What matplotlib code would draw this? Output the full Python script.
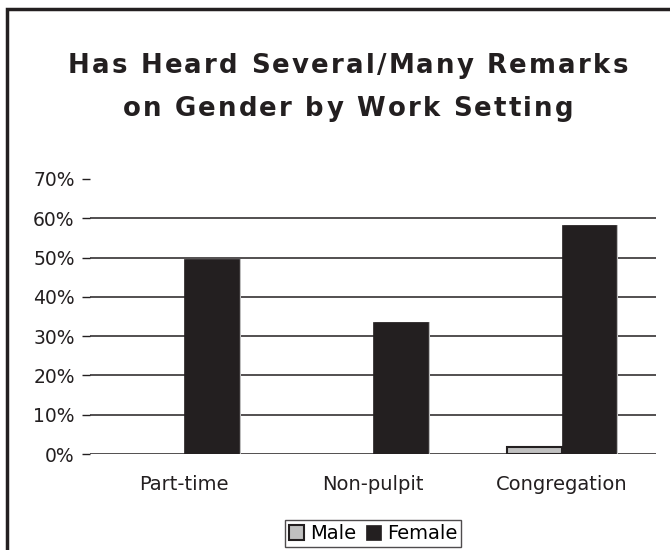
import matplotlib
matplotlib.use("Agg")
import matplotlib.pyplot as plt
from matplotlib.patches import Rectangle, Patch
from matplotlib.font_manager import FontProperties, findfont
from matplotlib.ft2font import FT2Font
import numpy as np

categories = ["Part-time", "Non-pulpit", "Congregation"]
male = [0.0, 0.0, 1.9]
female = [49.6, 33.6, 58.3]
yticks = [0, 10, 20, 30, 40, 50, 60, 70]
ytick_labels = ["0%", "10%", "20%", "30%", "40%", "50%", "60%", "70%"]
title_lines = ["Has Heard Several/Many Remarks", "on Gender by Work Setting"]

W, H = 670, 550
DPI = 100
fig = plt.figure(figsize=(W / DPI, H / DPI), dpi=DPI)
ax = fig.add_axes([90 / W, 1 - 454 / H, (656 - 90) / W, (454 - 179) / H])

x = np.arange(len(categories))
bw = 0.29
dark = "#231f20"
male_color = "#c0c0c0"
ax.bar(x - bw / 2, male, bw, color=male_color, edgecolor=dark,
       linewidth=[1.5 if v > 0 else 0 for v in male], zorder=3)
ax.bar(x + bw / 2 + 0.01, female, bw, color="#bdbdbd", edgecolor="none", zorder=2)  # shadow
ax.bar(x + bw / 2, female, bw, color=dark, edgecolor=dark, linewidth=0.5, zorder=3)

ax.set_xlim(-0.5, 2.5)
ax.set_ylim(0, 70)
ax.set_yticks(yticks)
ax.set_yticklabels(ytick_labels)
ax.set_xticks(x)
ax.set_xticklabels(categories)
for y in yticks[:-1]:
    ax.axhline(y, color=dark, linewidth=1.1, zorder=1)
for s in ax.spines.values():
    s.set_visible(False)
ax.tick_params(axis="y", length=6, width=1, color=dark, labelsize=13.5,
               labelcolor=dark, pad=5)
ax.tick_params(axis="x", length=0, labelsize=14, labelcolor=dark, pad=15)

# Letter-spaced title
tsize = 18.7
fprop = FontProperties(family="DejaVu Sans", weight="bold", size=tsize)
ft = FT2Font(findfont(fprop))
ft.set_size(tsize, 72)


def advances(s):
    adv = []
    for c in s:
        g = ft.load_char(ord(c))
        adv.append(g.linearHoriAdvance / 65536.0 * DPI / 72.0)
    return adv


adv1 = advances(title_lines[0])
track = (560 - sum(adv1)) / (len(title_lines[0]) - 1)
cx = 348
for line, yc in zip(title_lines, [63, 106]):
    adv = advances(line)
    total = sum(adv) + track * (len(line) - 1)
    xp = cx - total / 2
    for c, a in zip(line, adv):
        if c != " ":
            fig.text(xp / W, 1 - yc / H, c, ha="left", va="center_baseline",
                     fontproperties=fprop, color=dark)
        xp += a + track

handles = [Patch(facecolor=male_color, edgecolor=dark, linewidth=1.5, label="Male"),
           Patch(facecolor=dark, edgecolor=dark, linewidth=0.5, label="Female")]
leg = ax.legend(handles=handles, loc="upper center",
                bbox_to_anchor=(0.5, -(520 - 454) / (454 - 179)),
                ncol=2, frameon=True, fontsize=14, handlelength=0.8, handleheight=0.8,
                handletextpad=0.3, columnspacing=0.5, borderpad=0.2,
                fancybox=False, borderaxespad=0)
leg.get_frame().set_edgecolor(dark)
leg.get_frame().set_linewidth(1)

fig.patches.append(Rectangle((7 / W, -0.1), 1.2, 1.1 - 9 / H, transform=fig.transFigure,
                             fill=False, edgecolor=dark, linewidth=2.5))

fig.savefig("out.png", dpi=DPI, facecolor="white")
